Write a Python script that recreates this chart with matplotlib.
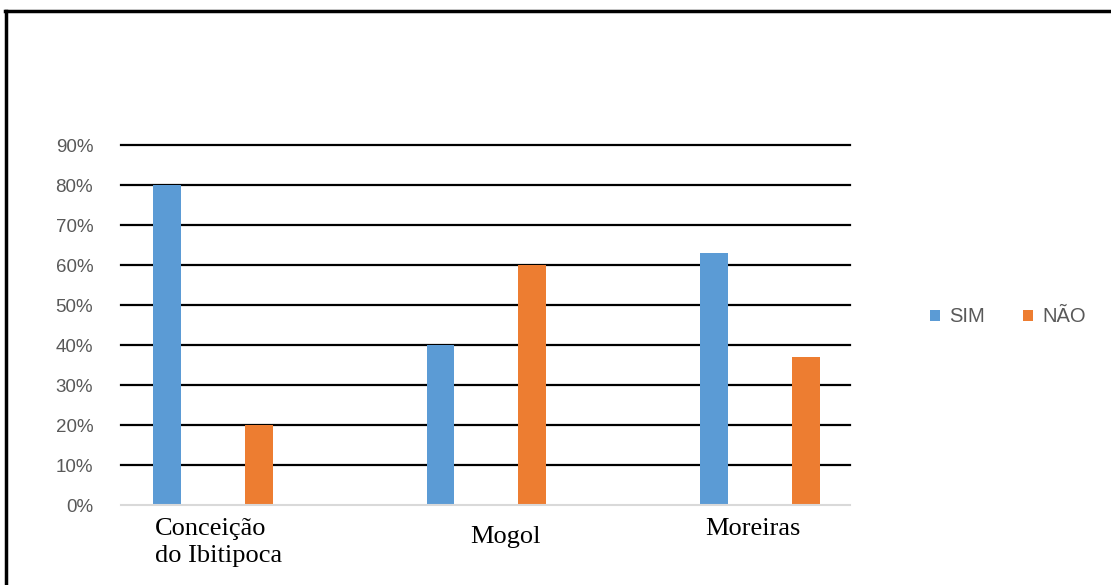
import matplotlib
matplotlib.use("Agg")
import matplotlib.pyplot as plt
from matplotlib.lines import Line2D
from matplotlib.patches import Patch
import numpy as np

categories = ["Conceição\ndo Ibitipoca", "Mogol", "Moreiras"]
sim = [0.80, 0.40, 0.63]
nao = [0.20, 0.60, 0.37]
series_names = ["SIM", "NÃO"]
yticks = [0, 0.1, 0.2, 0.3, 0.4, 0.5, 0.6, 0.7, 0.8, 0.9]
ytick_labels = ["0%", "10%", "20%", "30%", "40%", "50%", "60%", "70%", "80%", "90%"]

W, H = 1111, 585
fig = plt.figure(figsize=(W / 100, H / 100), dpi=100)
fig.patch.set_facecolor("white")

ax = fig.add_axes([121 / W, (H - 505) / H, (850 - 121) / W, 360 / H])
x = np.arange(len(categories))
bw = 0.102
off = 0.168
blue = "#5B9BD5"
orange = "#ED7D31"
ax.bar(x - off, sim, bw, color=blue, zorder=3, label=series_names[0])
ax.bar(x + off, nao, bw, color=orange, zorder=3, label=series_names[1])

ax.set_xlim(-0.336, 2.329)
ax.set_ylim(0, 0.9)
ax.set_yticks(yticks)
ax.set_yticklabels(ytick_labels, fontsize=13.5, color="#595959", family="Liberation Sans")
ax.tick_params(axis="y", length=0, pad=20)
ax.set_xticks([])
for s in ["top", "right", "left"]:
    ax.spines[s].set_visible(False)
ax.spines["bottom"].set_color("#d9d9d9")
ax.spines["bottom"].set_linewidth(1.5)
ax.spines["bottom"].set_zorder(4)
for yv in yticks[1:]:
    ax.axhline(yv, color="black", linewidth=1.6, zorder=1, clip_on=False)

# category labels (serif, as in reference)
label_dx = [0.02, 0.068, -0.026]
label_y = [-0.036, -0.058, -0.036]
tr = ax.get_xaxis_transform()
for i, lab in enumerate(categories):
    ax.text(x[i] + label_dx[i], label_y[i], lab, transform=tr, ha="center", va="top",
            multialignment="left", fontsize=19, family="Liberation Serif", color="black",
            linespacing=1.3)

handles = [Patch(facecolor=blue), Patch(facecolor=orange)]
leg = fig.legend(handles, series_names, loc="center", bbox_to_anchor=(1008 / W, (H - 317) / H),
                 ncol=2, frameon=False, handlelength=0.5, handleheight=0.5, handletextpad=0.45,
                 columnspacing=1.9, prop={"family": "Liberation Sans", "size": 14.5})
for t in leg.get_texts():
    t.set_color("#595959")

# outer frame (top and left edges)
fig.add_artist(Line2D([5.5 / W, 5.5 / W], [0, (H - 10.5) / H], color="black", linewidth=2.5,
                      transform=fig.transFigure))
fig.add_artist(Line2D([4.5 / W, 1], [(H - 10.5) / H, (H - 10.5) / H], color="black", linewidth=2.5,
                      transform=fig.transFigure))

fig.savefig("out.png", dpi=100, facecolor="white")
